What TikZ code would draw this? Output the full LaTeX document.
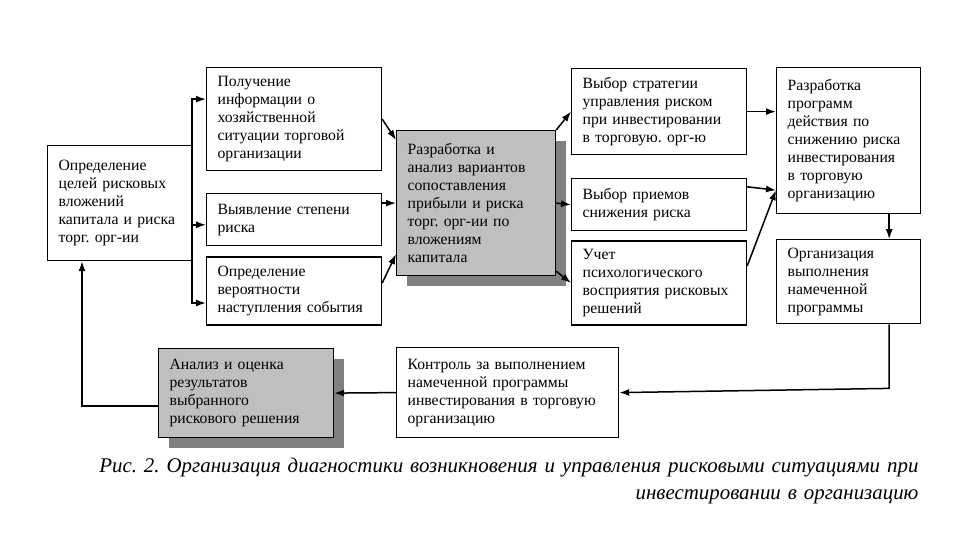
\documentclass[tikz,border=0pt]{standalone}
\usepackage{fontspec}
\setmainfont{Liberation Serif}
\usetikzlibrary{arrows.meta,positioning,shadows}
\frenchspacing

\begin{document}
\begin{tikzpicture}[x=1pt, y=-1pt,
  box/.style={draw, line width=1.2pt, fill=white, anchor=north west, align=left, inner xsep=11pt, inner ysep=3pt, font=\fontsize{15.7}{18}\selectfont},
  widebox/.style={box, text width=153pt},
  narrowbox/.style={box, text width=122pt},
  greybox/.style={box, fill=black!25, drop shadow={shadow xshift=10pt, shadow yshift=-10pt, fill=black!50, opacity=1}},
  caption/.style={align=right, text width=850pt, font=\fontsize{20.9}{27}\selectfont\itshape},
  arr/.style={-{Latex[length=10pt,width=7pt]}, line width=1.5pt}
]
\useasboundingbox (0,0) rectangle (960,540);

% first column and its three branches
\node[narrowbox, minimum height=115pt] (goal) at (47,145)
  {Определение\\целей рисковых\\вложений\\капитала и риска\\торг. орг-ии};
\node[widebox, minimum height=103pt] (info) at (206,67)
  {Получение\\информации о\\хозяйственной\\ситуации торговой\\организации};
\node[widebox, minimum height=52pt, below=22pt of info] (degree)
  {Выявление степени\\риска};
\node[widebox, minimum height=68pt, below=10pt of degree] (prob)
  {Определение\\вероятности\\наступления события};

\draw[arr] (goal.east) |- ([yshift=20pt]info.west);
\draw[arr] (goal.east) |- ([yshift=-5pt]degree.west);
\draw[arr] (goal.east) |- ([yshift=-12pt]prob.west);

% central grey box
\node[greybox, text width=137pt, minimum height=145pt] (dev) at (396,130)
  {Разработка и\\анализ вариантов\\сопоставления\\прибыли и риска\\торг. орг-ии по\\вложениям\\капитала};

\draw[arr] (info.east) -- ([yshift=-10pt]dev.north west);
\draw[arr] (degree.east |- dev.west) -- (dev.west);
\draw[arr] ([yshift=8pt]prob.east) -- ([yshift=22pt]dev.south west);

% strategies
\node[widebox, minimum height=86pt] (strat) at (571,68)
  {Выбор стратегии\\управления риском\\при инвестировании\\в торговую. орг-ю};
\node[widebox, minimum height=52pt, below=23pt of strat] (meth)
  {Выбор приемов\\снижения риска};
\node[widebox, minimum height=84pt, below=9pt of meth] (psych)
  {Учет\\психологического\\восприятия рисковых\\решений};

\draw[arr] (dev.north east) -- (strat.west);
\draw[arr] (dev.east) -- (meth.west);
\draw[arr] ([yshift=5pt]dev.south east) -- (psych.west);

% programme
\node[narrowbox, minimum height=146pt] (prog) at (776,67)
  {Разработка\\программ\\действия по\\снижению риска\\инвестирования\\в торговую\\организацию};
\node[narrowbox, minimum height=84pt, below=25pt of prog] (org)
  {Организация\\выполнения\\намеченной\\программы};

\draw[arr] (strat.east) -- (strat.east -| prog.west);
\draw[arr] ([yshift=18pt]meth.east) -- ([yshift=24pt]prog.south west);
\draw[arr] ([yshift=17pt]psych.east) -- ([yshift=24pt]prog.south west);
\draw[arr] ([xshift=-32pt]prog.south east) -- ([xshift=-32pt]org.north east);

% control and feedback
\node[box, text width=200pt, minimum height=90pt] (ctrl) at (396,347)
  {Контроль за выполнением\\намеченной программы\\инвестирования в торговую\\организацию};
\node[greybox, text width=153pt, minimum height=89pt] (eval) at (158,348)
  {Анализ и оценка\\результатов\\выбранного\\рискового решения};

\draw[arr] ([xshift=-32pt]org.south east) -- ++(0,-64pt) -- (ctrl.east);
\draw[arr] (ctrl.west) -- (eval.east);
\draw[arr] ([yshift=-13pt]eval.west) -| ([xshift=35pt]goal.south west);

\node[caption, anchor=north east] (cap) at (922,454)
  {Рис. 2. Организация диагностики возникновения и управления рисковыми ситуациями при\\инвестировании в организацию};

\end{tikzpicture}
\end{document}
